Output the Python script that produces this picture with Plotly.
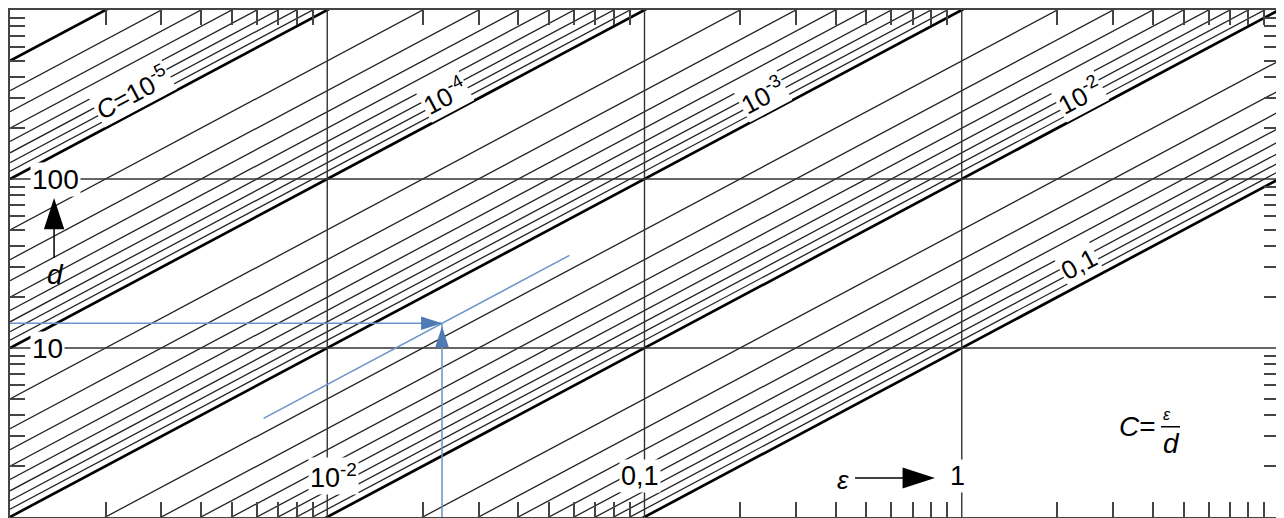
import math
import plotly.graph_objects as go

# ---------------- data ----------------
mantissas = [2, 3, 4, 5, 6, 7, 8, 9]
decade_exponents = [-6, -5, -4, -3, -2]          # thin lines C = m * 10^e
thick_C = [2e-6, 1e-5, 1e-4, 1e-3, 1e-2, 1e-1]   # heavy lines
eps_range = [1e-3, 1e1]
d_range = [1, 1000]
grid_eps = [0.01, 0.1, 1]
grid_d = [10, 100]
x_tick_exponents = [-3, -2, -1, 0]
y_tick_exponents = [0, 1, 2]

label_C = [1e-5, 1e-4, 1e-3, 1e-2, 1e-1]
label_eps = [0.00243, 0.0235, 0.235, 2.35, 2.35]
label_text = ["<i>C</i>=10<sup>-5</sup>", "10<sup>-4</sup>", "10<sup>-3</sup>",
              "10<sup>-2</sup>", "0,1"]

bottom_eps = [0.01, 0.1, 1]
bottom_text = ["10<sup>-2</sup>", "0,1", "1"]
left_d = [100, 10]
left_text = ["100", "10"]

example_eps = 0.023
example_d = 14
example_line_eps = [0.0063, 0.058]

# ---------------- styles ----------------
FONT = "Liberation Sans, Arial, sans-serif"
BLUE = "#6a93c8"
BLUE_HEAD = "#4f7bb5"
GRID = "#333333"
SLOPE_DEG = 28.0


def is_thick(c):
    return any(abs(c - t) / t < 1e-9 for t in thick_C)


thin_C = [m * 10.0 ** e for e in decade_exponents for m in mantissas]
thin_C = [c for c in thin_C if not is_thick(c)]


def segments(Cs):
    xs, ys = [], []
    for c in Cs:
        xs += [eps_range[0], eps_range[1], None]
        ys += [eps_range[0] / c, eps_range[1] / c, None]
    return xs, ys


fig = go.Figure()

tx, ty = segments(thin_C)
fig.add_trace(go.Scatter(x=tx, y=ty, mode="lines",
                         line=dict(color="#222222", width=1.3)))
kx, ky = segments(thick_C)
fig.add_trace(go.Scatter(x=kx, y=ky, mode="lines",
                         line=dict(color="#000000", width=2.7)))

# grid lines
gx, gy = [], []
for g in grid_eps:
    gx += [g, g, None]
    gy += [d_range[0], d_range[1], None]
for g in grid_d:
    gx += [eps_range[0], eps_range[1], None]
    gy += [g, g, None]
fig.add_trace(go.Scatter(x=gx, y=gy, mode="lines",
                         line=dict(color=GRID, width=1.4)))

# worked example (blue)
ex_C = example_eps / example_d
fig.add_trace(go.Scatter(
    x=[eps_range[0], example_eps, None, example_eps, example_eps, None,
       example_line_eps[0], example_line_eps[1]],
    y=[example_d, example_d, None, d_range[0], example_d, None,
       example_line_eps[0] / ex_C, example_line_eps[1] / ex_C],
    mode="lines", line=dict(color=BLUE, width=1.5)))
fig.add_trace(go.Scatter(
    x=[example_eps, example_eps], y=[example_d, example_d * 0.96],
    mode="markers",
    marker=dict(symbol="arrow", size=22, angle=[90, 0], color=BLUE_HEAD,
                line=dict(width=0))))

# axis direction arrows (black)
fig.add_trace(go.Scatter(x=[0.461, 0.70], y=[1.70, 1.70], mode="lines",
                         line=dict(color="#000", width=1.5)))
fig.add_trace(go.Scatter(x=[0.823], y=[1.70], mode="markers",
                         marker=dict(symbol="arrow", size=34, angle=90,
                                     color="#000", line=dict(width=0))))
fig.add_trace(go.Scatter(x=[0.001377, 0.001377], y=[34.1, 55], mode="lines",
                         line=dict(color="#000", width=1.5)))
fig.add_trace(go.Scatter(x=[0.001377], y=[77.2], mode="markers",
                         marker=dict(symbol="arrow", size=33, angle=0,
                                     color="#000", line=dict(width=0))))

annotations = []
for c, e, t in zip(label_C, label_eps, label_text):
    annotations.append(dict(x=math.log10(e), y=math.log10(e / c), text=t,
                            textangle=-SLOPE_DEG, showarrow=False, yshift=21,
                            bgcolor="white", borderpad=1,
                            font=dict(family=FONT, size=26, color="#000")))
for e, t, sh in zip(bottom_eps, bottom_text, [6, -5, -4]):
    annotations.append(dict(x=math.log10(e), y=math.log10(1.75), text=t,
                            xshift=sh, showarrow=False, bgcolor="white",
                            borderpad=1,
                            font=dict(family=FONT, size=27, color="#000")))
for dv, t in zip(left_d, left_text):
    annotations.append(dict(xref="paper", x=0, xanchor="left", xshift=20,
                            y=math.log10(dv), text=t, showarrow=False,
                            bgcolor="white", borderpad=1,
                            font=dict(family=FONT, size=28, color="#000")))
annotations.append(dict(x=math.log10(0.422), y=math.log10(1.66),
                        text="<i>ε</i>", showarrow=False,
                        font=dict(family=FONT, size=26, color="#000")))
annotations.append(dict(x=math.log10(0.001387), y=math.log10(27.4),
                        text="<i>d</i>", showarrow=False,
                        font=dict(family=FONT, size=28, color="#000")))
# formula C = eps / d
annotations.append(dict(xref="paper", yref="paper", x=0.9047, y=0.178,
                        xanchor="right", yanchor="middle", text="<i>C</i>=",
                        showarrow=False,
                        font=dict(family=FONT, size=28, color="#000")))
annotations.append(dict(xref="paper", yref="paper", x=0.9117, y=0.203,
                        xanchor="center", yanchor="middle", text="<i>ε</i>",
                        showarrow=False,
                        font=dict(family=FONT, size=16, color="#000")))
annotations.append(dict(xref="paper", yref="paper", x=0.9149, y=0.145,
                        xanchor="center", yanchor="middle", text="<i>d</i>",
                        showarrow=False,
                        font=dict(family=FONT, size=28, color="#000")))

shapes = [dict(type="line", xref="paper", yref="paper", x0=0.907, x1=0.922,
               y0=0.178, y1=0.178, line=dict(color="#000", width=1.5))]

x_ticks = [m * 10.0 ** e for e in x_tick_exponents for m in mantissas]
y_ticks = [m * 10.0 ** e for e in y_tick_exponents for m in mantissas]

axis_common = dict(type="log", showgrid=False, zeroline=False,
                   showticklabels=False, ticks="inside", ticklen=15,
                   tickwidth=1.5, tickcolor="#444", showline=True,
                   linecolor="#444", linewidth=1.5, mirror="ticks")

# page body adds an 8 px offset, so the figure is sized to fit the window
fig.update_layout(
    width=1276, height=510,
    margin=dict(l=2, r=5, t=2, b=1, pad=0),
    paper_bgcolor="white", plot_bgcolor="white",
    showlegend=False, hovermode=False,
    xaxis=dict(range=[math.log10(eps_range[0]), math.log10(eps_range[1])],
               tickvals=x_ticks, **axis_common),
    yaxis=dict(range=[math.log10(d_range[0]), math.log10(d_range[1])],
               tickvals=y_ticks, **axis_common),
    annotations=annotations,
    shapes=shapes,
)

fig.write_html("out.html")
